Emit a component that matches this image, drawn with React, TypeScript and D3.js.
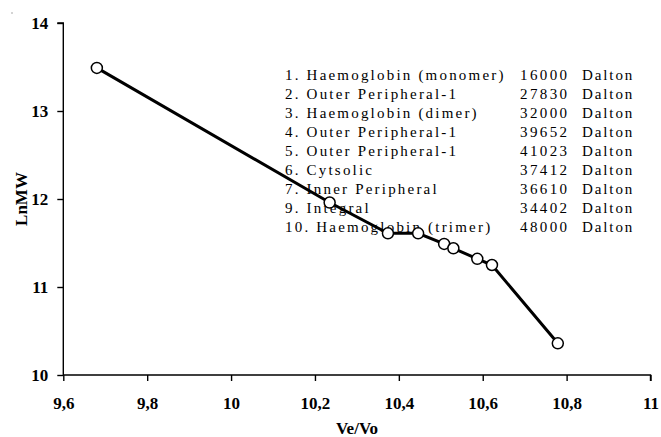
import React, { useEffect, useRef } from "react";
import * as d3 from "d3";

// Ve/Vo (x) and LnMW (y)
const veVo = [9.68, 10.235, 10.374, 10.446, 10.508, 10.53, 10.587, 10.622, 10.779];
const lnMW = [13.49, 11.96, 11.61, 11.61, 11.49, 11.44, 11.32, 11.25, 10.36];

const xTicks = [9.6, 9.8, 10, 10.2, 10.4, 10.6, 10.8, 11];
const yTicks = [10, 11, 12, 13, 14];

const proteinNames = [
  "1. Haemoglobin (monomer)",
  "2. Outer Peripheral-1",
  "3. Haemoglobin (dimer)",
  "4. Outer Peripheral-1",
  "5. Outer Peripheral-1",
  "6. Cytsolic",
  "7. Inner Peripheral",
  "9. Integral",
  "10. Haemoglobin (trimer)",
];
const daltons = ["16000", "27830", "32000", "39652", "41023", "37412", "36610", "34402", "48000"];

const App = () => {
  const ref = useRef<SVGSVGElement>(null);

  useEffect(() => {
    const svg = d3.select(ref.current);
    svg.selectAll("*").remove();

    const x = d3.scaleLinear().domain([9.6, 11]).range([63.3, 650.5]);
    const y = d3.scaleLinear().domain([10, 14]).range([375, 23]);
    const fmt = (d: number) => String(d).replace(".", ",");
    const serif = "'Liberation Serif', 'Times New Roman', serif";

    // legend text block (drawn first, line passes over it)
    const leg = svg
      .append("g")
      .style("font-family", serif)
      .style("font-size", "15px")
      .attr("fill", "#000");
    proteinNames.forEach((name, i) => {
      const by = 80 + i * 19.05;
      leg.append("text").attr("x", 285).attr("y", by).style("letter-spacing", "2.2px").text(name);
      leg.append("text").attr("x", 520).attr("y", by).style("letter-spacing", "2.4px").text(daltons[i]);
      leg.append("text").attr("x", 582).attr("y", by).style("letter-spacing", "1.9px").text("Dalton");
    });

    // axes
    const xAxis = svg
      .append("g")
      .attr("transform", `translate(0,${y(10)})`)
      .call(d3.axisBottom(x).tickValues(xTicks).tickSize(6).tickFormat((d) => fmt(+d)));
    const yAxis = svg
      .append("g")
      .attr("transform", `translate(${x(9.6)},0)`)
      .call(d3.axisLeft(y).tickValues(yTicks).tickSize(6).tickFormat((d) => String(d)));

    [xAxis, yAxis].forEach((g) => {
      g.select(".domain").attr("stroke", "#000").attr("stroke-width", 1.4);
      g.selectAll(".tick line").attr("stroke", "#000").attr("stroke-width", 1.4);
      g.selectAll("text")
        .attr("fill", "#000")
        .style("font-family", serif)
        .style("font-size", "17px")
        .style("font-weight", "bold");
    });
    xAxis.selectAll(".tick text").attr("y", 22).attr("dy", "0.71em");
    yAxis.selectAll(".tick text").attr("x", -15);
    xAxis.select(".domain").attr("d", `M${x(9.6)},0H${x(11)}V6`);
    yAxis.select(".domain").attr("d", `M-6,${y(14)}H0V${y(10)}`);

    // axis titles
    svg
      .append("text")
      .attr("x", 357)
      .attr("y", 434)
      .attr("text-anchor", "middle")
      .style("font-family", serif)
      .style("font-size", "17px")
      .style("font-weight", "bold")
      .text("Ve/Vo");
    svg
      .append("text")
      .attr("transform", `translate(21,${y(12)}) rotate(-90)`)
      .attr("text-anchor", "middle")
      .attr("dy", "0.35em")
      .style("font-family", serif)
      .style("font-size", "17px")
      .style("font-weight", "bold")
      .text("LnMW");

    // line and markers
    const pts = veVo.map((v, i) => [v, lnMW[i]] as [number, number]);
    svg
      .append("path")
      .attr("d", d3.line().x((d) => x(d[0])).y((d) => y(d[1]))(pts))
      .attr("fill", "none")
      .attr("stroke", "#000")
      .attr("stroke-width", 3);
    svg
      .selectAll("circle")
      .data(pts)
      .join("circle")
      .attr("cx", (d) => x(d[0]))
      .attr("cy", (d) => y(d[1]))
      .attr("r", 5.5)
      .attr("fill", "#fff")
      .attr("stroke", "#000")
      .attr("stroke-width", 1.5);

    // stray speck in the original
    svg.append("rect").attr("x", 11.5).attr("y", 12.5).attr("width", 1).attr("height", 1).attr("fill", "#555");
  }, []);

  return (
    <svg
      ref={ref}
      width={661}
      height={437}
      style={{ position: "absolute", left: 0, top: 0, background: "#fff" }}
    />
  );
};

export default App;
